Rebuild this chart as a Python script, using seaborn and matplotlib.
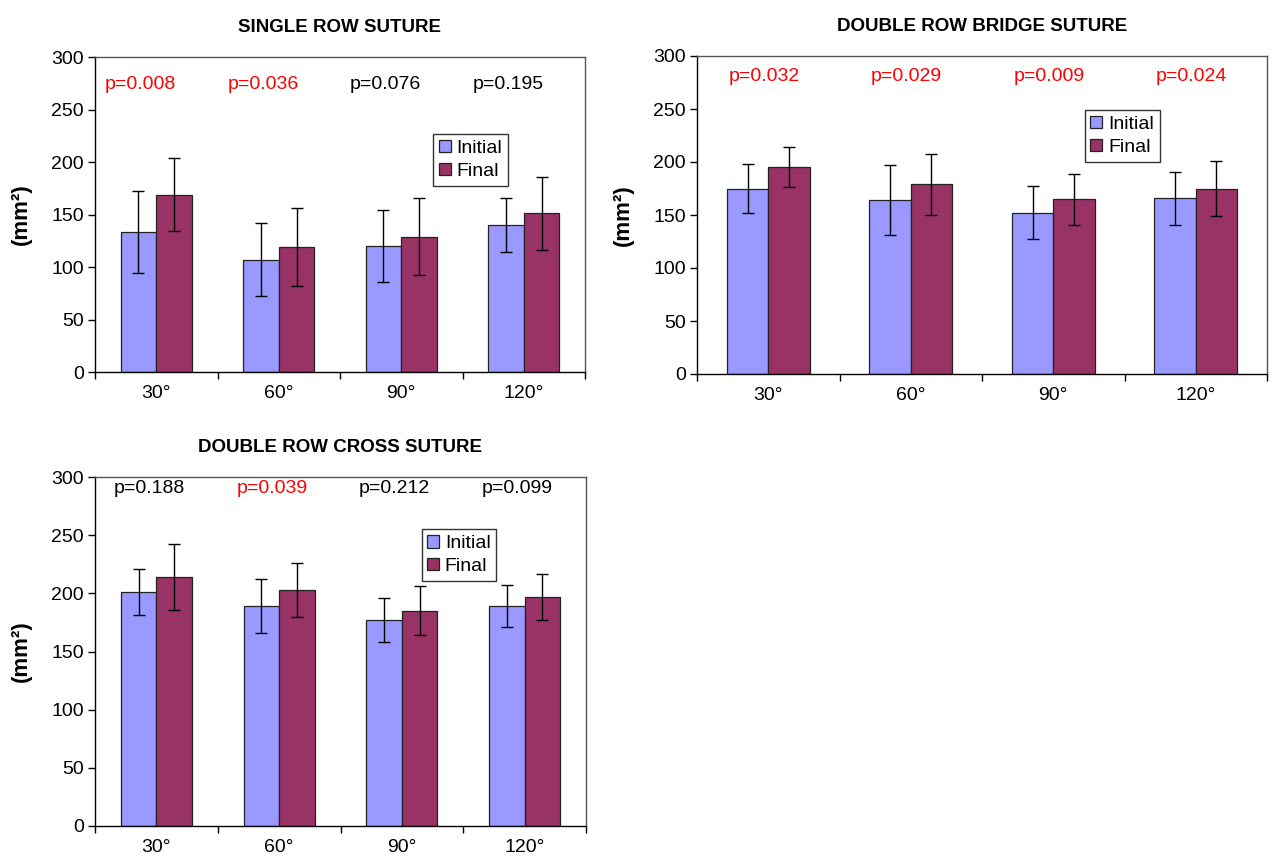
import matplotlib.pyplot as plt
import numpy as np
import pandas as pd
import seaborn as sns

angles = ['30°', '60°', '90°', '120°']

single_initial = [133, 107, 120, 140]
single_initial_err = [39, 35, 34, 26]
single_final = [169, 119, 129, 151]
single_final_err = [35, 37, 37, 35]
single_p = ['p=0.008', 'p=0.036', 'p=0.076', 'p=0.195']
single_sig = [True, True, False, False]

bridge_initial = [175, 164, 152, 166]
bridge_initial_err = [23, 33, 25, 25]
bridge_final = [195, 179, 165, 175]
bridge_final_err = [19, 29, 24, 26]
bridge_p = ['p=0.032', 'p=0.029', 'p=0.009', 'p=0.024']
bridge_sig = [True, True, True, True]

cross_initial = [201, 189, 177, 189]
cross_initial_err = [20, 23, 19, 18]
cross_final = [214, 203, 185, 197]
cross_final_err = [28, 23, 21, 20]
cross_p = ['p=0.188', 'p=0.039', 'p=0.212', 'p=0.099']
cross_sig = [False, True, False, False]

sns.set_style('ticks')
plt.rcParams['font.family'] = ['Liberation Sans', 'DejaVu Sans']
plt.rcParams['text.color'] = 'black'
plt.rcParams['axes.labelcolor'] = 'black'
plt.rcParams['xtick.color'] = 'black'
plt.rcParams['ytick.color'] = 'black'

colors = ['#9999FF', '#993366']


def draw_panel(ax, title, initial, initial_err, final, final_err, pvals, sig,
               p_y, p_shift, leg_pos):
    df = pd.DataFrame({
        'angle': angles * 2,
        'area': initial + final,
        'time': ['Initial'] * 4 + ['Final'] * 4,
    })
    sns.barplot(data=df, x='angle', y='area', hue='time', palette=colors,
                edgecolor='#222222', linewidth=0.9, width=0.58, errorbar=None,
                saturation=1, ax=ax)
    errs = [initial_err, final_err]
    for cont, err in zip(ax.containers, errs):
        xs = [p.get_x() + p.get_width() / 2 for p in cont.patches]
        hs = [p.get_height() for p in cont.patches]
        ax.errorbar(xs, hs, yerr=err, fmt='none', ecolor='black',
                    elinewidth=1, capsize=4, capthick=1)
    # p-values above each angle group
    for i, (txt, s) in enumerate(zip(pvals, sig)):
        ax.text(i + p_shift, p_y, txt, ha='center', va='center', fontsize=14,
                color='red' if s else 'black')
    ax.set_xlim(-0.5, 3.5)
    ax.set_ylim(0, 300)
    ax.set_yticks(range(0, 301, 50))
    ax.set_xticks(range(4))
    ax.set_xticklabels(angles)
    ax.set_xticks(np.arange(-0.5, 4, 1), minor=True)
    ax.tick_params(axis='x', which='major', length=0, pad=9, labelsize=14)
    ax.tick_params(axis='x', which='minor', length=5, width=1, direction='out')
    ax.tick_params(axis='y', length=5, width=1, labelsize=14, pad=3)
    for sp in ax.spines.values():
        sp.set_visible(True)
        sp.set_color('black')
        sp.set_linewidth(1)
    ax.spines['top'].set_color('#555555')
    ax.spines['right'].set_color('#555555')
    ax.set_xlabel('')
    ax.set_ylabel('(mm²)', fontsize=16, fontweight='bold', labelpad=14)
    ax.set_title(title, fontsize=13.5, fontweight='bold', pad=18)
    leg = ax.legend(loc='upper left', bbox_to_anchor=leg_pos, fontsize=14,
                    frameon=True, fancybox=False, handlelength=0.6,
                    handleheight=0.6, handletextpad=0.3, borderpad=0.3,
                    labelspacing=0.3, borderaxespad=0)
    leg.get_frame().set_edgecolor('black')
    leg.get_frame().set_linewidth(1)


fig = plt.figure(figsize=(12.74, 8.57), dpi=100)
ax1 = fig.add_axes([95 / 1274, 1 - 372 / 857, 490 / 1274, 315 / 857])
ax2 = fig.add_axes([697 / 1274, 1 - 374 / 857, 570 / 1274, 318 / 857])
ax3 = fig.add_axes([95 / 1274, 1 - 826 / 857, 491 / 1274, 349 / 857])

draw_panel(ax1, 'SINGLE ROW SUTURE', single_initial, single_initial_err,
           single_final, single_final_err, single_p, single_sig, 274, -0.13,
           (0.69, 0.755))
draw_panel(ax2, 'DOUBLE ROW BRIDGE SUTURE', bridge_initial, bridge_initial_err,
           bridge_final, bridge_final_err, bridge_p, bridge_sig, 281, -0.03,
           (0.68, 0.83))
draw_panel(ax3, 'DOUBLE ROW CROSS SUTURE', cross_initial, cross_initial_err,
           cross_final, cross_final_err, cross_p, cross_sig, 290, -0.06,
           (0.665, 0.85))

fig.savefig('out.png', dpi=100)
